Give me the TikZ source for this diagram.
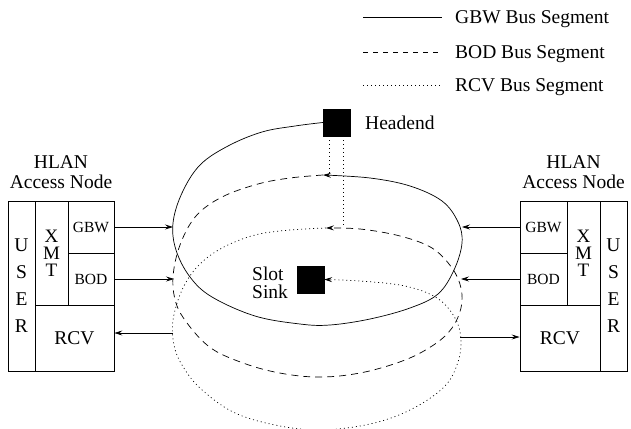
\documentclass[tikz,border=0pt]{standalone}
\usepackage{fontspec}
\setmainfont{Liberation Serif}
\usetikzlibrary{arrows.meta,calc}
\begin{document}
\begin{tikzpicture}[x=1pt,y=-1pt,
  lbl/.style={font=\fontsize{19.5}{20}\selectfont, inner sep=0pt},
  cellbox/.style 2 args={draw, line width=0.8pt, inner sep=0pt, minimum width=#1, minimum height=#2},
  big/.style={font=\fontsize{19.5}{20}\selectfont},
  small/.style={font=\fontsize{15.5}{16}\selectfont},
  userfont/.style={font=\fontsize{19.5}{27}\selectfont, align=center},
  xmtfont/.style={font=\fontsize{19}{17}\selectfont, align=center},
  arr/.style={-{Stealth[length=8pt,width=5pt,inset=3pt]}, line width=0.7pt},
  gbw/.style={line width=0.8pt},
  bod/.style={line width=0.8pt, dash pattern=on 7pt off 5pt},
  rcv/.style={line width=0.9pt, dash pattern=on 1pt off 3pt},
  sq/.style={fill=black, draw=black, minimum width=27pt, minimum height=27pt, inner sep=0pt}]
\useasboundingbox (0,0) rectangle (631,428);

% legend
\coordinate (g1) at (363,17); \coordinate (g2) at (442,17);
\coordinate (b1) at (363,52); \coordinate (b2) at (442,52);
\coordinate (r1) at (363,85); \coordinate (r2) at (442,85);
\draw[gbw] (g1) -- (g2);
\draw[line width=0.8pt, dash pattern=on 5pt off 5pt] (b1) -- (b2);
\draw[line width=0.9pt, dash pattern=on 1pt off 3pt] (r1) -- (r2);
\node[lbl, anchor=base west] (lg) at (455,23.5) {GBW Bus Segment};
\node[lbl, anchor=base west] (lb) at (455,58.5) {BOD Bus Segment};
\node[lbl, anchor=base west] (lr) at (455,91.5) {RCV Bus Segment};

% headend and slot sink
\node[sq] (H) at (336.5,122.5) {};
\node[lbl, anchor=base west] (Ht) at (365,129.5) {Headend};
\node[sq] (S) at (310.5,279.5) {};
\node[lbl, anchor=base west] (St1) at (252,280) {Slot};
\node[lbl, anchor=base west] (St2) at (252,298) {Sink};

% left access node
\node[lbl, anchor=base] (LT1) at (61,168) {HLAN};
\node[lbl, anchor=base] (LT2) at (61,188) {Access Node};
\node[cellbox={27pt}{170pt}, userfont] (LU) at (21.5,286) {U\\S\\E\\R};
\node[cellbox={33pt}{104pt}, xmtfont] (LX) at (51.5,253) {X\\M\\T};
\node[cellbox={46pt}{52pt}, small] (LG) at (91,227) {GBW};
\node[cellbox={46pt}{52pt}, small] (LB) at (91,279) {BOD};
\node[cellbox={79pt}{66pt}, big] (LR) at (74.5,338) {RCV};

% right access node
\node[lbl, anchor=base] (RT1) at (573.5,168) {HLAN};
\node[lbl, anchor=base] (RT2) at (573.5,188) {Access Node};
\node[cellbox={47pt}{52pt}, small] (RG) at (543.5,227) {GBW};
\node[cellbox={47pt}{52pt}, small] (RB) at (543.5,279) {BOD};
\node[cellbox={33pt}{104pt}, xmtfont] (RX) at (583.5,253) {X\\M\\T};
\node[cellbox={27pt}{170pt}, userfont] (RU) at (613.5,286) {U\\S\\E\\R};
\node[cellbox={80pt}{66pt}, big] (RR) at (560,338) {RCV};

% junction points on the rings
\coordinate (j1) at (323,175);
\coordinate (j2) at (326,228);
\coordinate (sL1) at (173,227);
\coordinate (sL2) at (174,279);
\coordinate (sL3) at (173,333);
\coordinate (sR1) at (462,227);
\coordinate (sR2) at (461,279);
\coordinate (sR3) at (460,337);

% GBW ring
\draw[gbw, arr] plot[smooth, tension=0.6] coordinates {(H.west) (295,126) (262,132) (228,146) (200,165) (182,193) (173,223) (176,250) (190,277) (212,297) (255,316) (300,324) (330,325) (370,319) (410,308) (438,294) (454,270) (462,243) (458,222) (442,201) (410,186) (370,178) (j1)};
% BOD ring
\draw[bod, arr] plot[smooth, tension=0.6] coordinates {(j1) (290,178) (258,184) (222,197) (196,216) (180,245) (173,277) (176,303) (187,323) (207,345) (230,358) (270,371) (315,377) (360,373) (405,360) (435,344) (452,328) (461,308) (461,288) (452,268) (432,248) (400,236) (360,229) (j2)};
% RCV ring
\draw[rcv, arr] plot[smooth, tension=0.6] coordinates {(j2) (290,230) (255,235) (222,248) (198,266) (182,290) (173,320) (174,345) (182,365) (200,388) (233,412) (275,425) (320,430) (370,424) (410,410) (443,388) (457,365) (461,340) (455,318) (437,298) (405,286) (360,281) (S.east)};

% headend feeds
\coordinate (h1) at ($(H.south west)!0.25!(H.south east)$);
\coordinate (h2) at ($(H.south west)!0.75!(H.south east)$);
\draw[rcv] (h1) -- (h1 |- j1);
\draw[rcv] (h2) -- (h2 |- j2);

% access arrows
\draw[arr] (LG.east) -- (sL1);
\draw[arr] (LB.east) -- (sL2);
\draw[arr] (sL3) -- (sL3 -| LR.east);
\draw[arr] (RG.west) -- (sR1);
\draw[arr] (RB.west) -- (sR2);
\draw[arr] (sR3) -- (sR3 -| RR.west);
\end{tikzpicture}
\end{document}
